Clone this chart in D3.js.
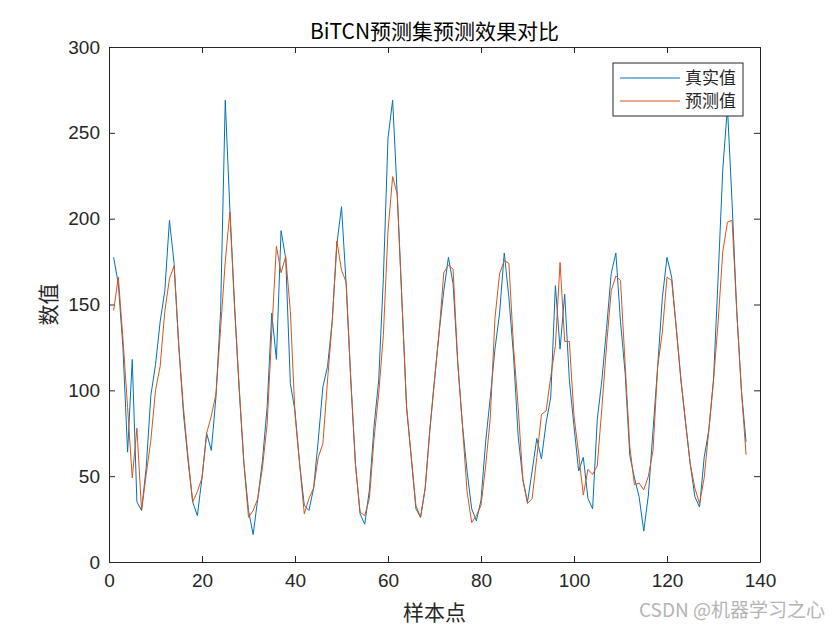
<!DOCTYPE html>
<html>
<head>
<meta charset="utf-8">
<script src="https://cdn.jsdelivr.net/npm/d3@7"></script>
<style>
  html, body { margin: 0; padding: 0; background: #fff; }
  svg { display: block; }
</style>
</head>
<body>
<svg id="chart" width="840" height="630"></svg>
<script>
// 真实值 / 预测值, 样本点 1..137
var trueVals = [
    177.5, 162, 125, 64, 118, 35, 30, 55, 97, 115,
    140, 158, 199, 174, 126, 87, 59, 35, 27, 49,
    75, 65, 96, 146, 269, 205, 150, 100, 58, 30,
    16, 37, 59, 90, 145, 118, 193, 177, 104, 88,
    57, 33, 30, 43, 71, 102, 114, 140, 185, 207,
    162, 106, 57, 28, 22, 42, 79, 106, 165, 247,
    269, 213, 152, 90, 61, 31, 26, 43, 77, 106,
    134, 158, 177.5, 162, 116, 80, 53, 31, 24, 36,
    70, 96, 124, 145, 180, 154, 120, 73, 48, 35,
    53, 72, 60, 81, 96, 161, 124, 156, 106, 79,
    53, 61, 37, 31, 83, 106, 136, 168, 180, 140,
    110, 62, 49, 38, 18, 39, 77, 114, 154, 177.5,
    166, 136, 106, 81, 57, 38, 32, 61, 77, 106,
    166, 229, 265, 209, 146, 100, 70
];
var predVals = [
    146.5, 166, 130, 90, 49, 78, 30, 51, 71, 100,
    114, 146, 165, 172.5, 126, 90, 61, 35, 41, 49,
    75, 85, 98, 136, 175, 204, 148, 102, 58, 26,
    30, 37, 55, 80, 134, 184, 168.5, 178, 146, 86,
    57, 28, 37, 43, 61, 69, 106, 140, 187, 170,
    163, 106, 57, 29, 27, 37, 72, 98, 132, 193,
    224.5, 214, 152, 90, 61, 33, 26, 43, 77, 106,
    134, 168.5, 173, 170.5, 116, 80, 41, 23, 27, 33,
    56, 84, 142, 168, 175.5, 174, 125, 90, 48, 34,
    37, 61, 86, 88, 108, 126, 174.5, 128.5, 128.5, 85,
    63, 39, 54, 51, 56, 90, 126, 158, 166.6, 164,
    115, 67, 45, 46, 42, 50, 65, 114, 134, 166,
    164, 136, 106, 81, 57, 43, 34, 49, 77, 106,
    140, 181, 198, 199, 146, 100, 62.5
];
var xTicks = [0, 20, 40, 60, 80, 100, 120, 140];
var yTicks = [0, 50, 100, 150, 200, 250, 300];
var seriesNames = ['真实值', '预测值'];
var seriesColors = ['#0072BD', '#D95319'];

var FONT = '"Liberation Sans", Arial, sans-serif';
var CJK = '"Noto Sans CJK SC", "Liberation Sans", sans-serif';

var svg = d3.select('#chart');
var m = { left: 109, right: 760, top: 47, bottom: 562 };

var x = d3.scaleLinear().domain([0, 140]).range([m.left, m.right]);
var y = d3.scaleLinear().domain([0, 300]).range([m.bottom, m.top]);

// 坐标轴 (ticks inward, like MATLAB)
var axisColor = '#262626';
var gx = svg.append('g').attr('transform', 'translate(0,' + m.bottom + ')')
    .call(d3.axisBottom(x).tickValues(xTicks).tickSizeInner(-6).tickSizeOuter(0).tickPadding(12));
var gy = svg.append('g').attr('transform', 'translate(' + m.left + ',0)')
    .call(d3.axisLeft(y).tickValues(yTicks).tickSizeInner(-6).tickSizeOuter(0).tickPadding(9));
var gx2 = svg.append('g').attr('transform', 'translate(0,' + m.top + ')')
    .call(d3.axisTop(x).tickValues(xTicks).tickSizeInner(-6).tickSizeOuter(0).tickFormat(''));
var gy2 = svg.append('g').attr('transform', 'translate(' + m.right + ',0)')
    .call(d3.axisRight(y).tickValues(yTicks).tickSizeInner(-6).tickSizeOuter(0).tickFormat(''));

[gx, gy, gx2, gy2].forEach(function (g) {
    g.select('.domain').attr('stroke', axisColor);
    g.selectAll('.tick line').attr('stroke', axisColor);
    g.selectAll('.tick text').attr('fill', axisColor)
        .style('font-family', FONT).style('font-size', '19px');
});

// 折线
var line = d3.line()
    .x(function (d, i) { return x(i + 1); })
    .y(function (d) { return y(d); });

[trueVals, predVals].forEach(function (vals, k) {
    svg.append('path')
        .datum(vals)
        .attr('fill', 'none')
        .attr('stroke', seriesColors[k])
        .attr('stroke-width', 1)
        .attr('d', line);
});

// 标题、轴标签
svg.append('text')
    .attr('x', (m.left + m.right) / 2).attr('y', 39)
    .attr('text-anchor', 'middle').attr('fill', '#000')
    .style('font-family', CJK).style('font-size', '21px')
    .text('BiTCN预测集预测效果对比');

svg.append('text')
    .attr('x', (m.left + m.right) / 2).attr('y', 620)
    .attr('text-anchor', 'middle').attr('fill', axisColor)
    .style('font-family', CJK).style('font-size', '21px')
    .text('样本点');

svg.append('text')
    .attr('transform', 'translate(56,' + (m.top + m.bottom) / 2 + ') rotate(-90)')
    .attr('text-anchor', 'middle').attr('fill', axisColor)
    .style('font-family', CJK).style('font-size', '21px')
    .text('数值');

// 图例
var lg = svg.append('g').attr('transform', 'translate(613,63)');
lg.append('rect')
    .attr('width', 130).attr('height', 53)
    .attr('fill', '#fff').attr('stroke', axisColor).attr('stroke-width', 1);
seriesNames.forEach(function (name, k) {
    var yy = 15 + k * 23;
    lg.append('line')
        .attr('x1', 7).attr('x2', 67).attr('y1', yy).attr('y2', yy)
        .attr('stroke', seriesColors[k]).attr('stroke-width', 1);
    lg.append('text')
        .attr('x', 72).attr('y', yy + 6)
        .attr('fill', axisColor)
        .style('font-family', CJK).style('font-size', '17px')
        .text(name);
});

// 水印
svg.append('text')
    .attr('x', 825).attr('y', 617)
    .attr('text-anchor', 'end').attr('fill', '#b4b4b4')
    .style('font-family', CJK).style('font-size', '19px')
    .text('CSDN @机器学习之心');
</script>
</body>
</html>
